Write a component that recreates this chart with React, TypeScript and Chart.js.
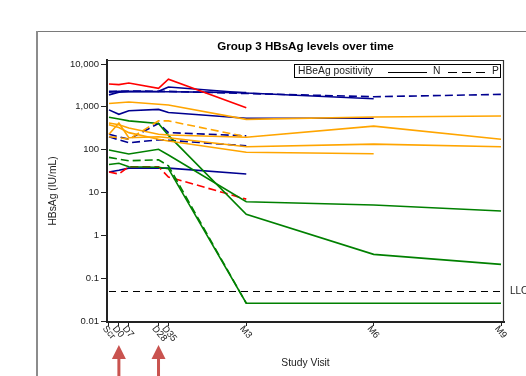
import { useEffect, useRef } from 'react';
import { Chart, registerables } from 'chart.js';

Chart.register(...registerables);

// ---------- data ----------
const visitLabels = ['Scr', 'D0', 'D7', 'D28', 'D35', 'M3', 'M6', 'M9'];
const visitDays = [-7, 0, 7, 28, 35, 90, 180, 270];
const yTickValues = [0.01, 0.1, 1, 10, 100, 1000, 10000];
const yTickLabels = ['0.01', '0.1', '1', '10', '100', '1,000', '10,000'];
const lloqValue = 0.05;
const arrowVisits = ['D0', 'D28'];

const redN1 = [3400, 3300, 3600, 2700, 4400, 950, null, null];
const redP1 = [30, 27, 40, 40, 23, 7, null, null];
const navyN1 = [1900, 2200, 2250, 2300, 2900, 2100, 1550, null];
const navyN2 = [2200, 2300, 2300, 2250, 2250, 2150, null, null];
const navyP1 = [2300, 2300, 2350, 2300, 2300, 2050, 1720, 1950];
const navyN3 = [850, 670, 810, 870, 740, 540, 540, null];
const navyP2 = [230, 200, 175, 410, 250, 210, null, null];
const navyP3 = [200, 170, 145, 170, 165, 123, null, null];
const navyN4 = [30, 33, 37, 37, 37, 27, null, null];
const orangeN1 = [1200, 1250, 1300, 1150, 1100, 510, 580, 610];
const orangeN2 = [420, 380, 320, 230, 220, 195, 355, 175];
const orangeN3 = [230, 420, 190, 200, 190, 117, 135, 117];
const orangeN4 = [380, 330, 250, 175, 160, 87, 80, null];
const orangeP1 = [200, 190, 175, 470, 470, 200, null, null];
const greenN1 = [570, 520, 470, 410, 215, 3.1, 0.36, 0.21];
const greenN2 = [98, 88, 79, 102, 75, 6.1, 5.1, 3.7];
const greenN3 = [45, 48, 40, 39, 36, 0.026, 0.026, 0.026];
const greenP1 = [66, 60, 55, 58, 42, 0.026, null, null];

// ---------- styles ----------
const RED = '#ff0000';
const NAVY = '#000090';
const ORANGE = '#ffa500';
const GREEN = '#008000';
const FONT = '"Liberation Sans", Arial, sans-serif';
const DASH = [8, 4];

const seriesTable: { values: (number | null)[]; color: string; dashed: boolean }[] = [
  { values: orangeN1, color: ORANGE, dashed: false },
  { values: orangeN2, color: ORANGE, dashed: false },
  { values: orangeN3, color: ORANGE, dashed: false },
  { values: orangeN4, color: ORANGE, dashed: false },
  { values: orangeP1, color: ORANGE, dashed: true },
  { values: greenN1, color: GREEN, dashed: false },
  { values: greenN2, color: GREEN, dashed: false },
  { values: greenN3, color: GREEN, dashed: false },
  { values: greenP1, color: GREEN, dashed: true },
  { values: redN1, color: RED, dashed: false },
  { values: redP1, color: RED, dashed: true },
  { values: navyN1, color: NAVY, dashed: false },
  { values: navyN2, color: NAVY, dashed: false },
  { values: navyP1, color: NAVY, dashed: true },
  { values: navyN3, color: NAVY, dashed: false },
  { values: navyP2, color: NAVY, dashed: true },
  { values: navyP3, color: NAVY, dashed: true },
  { values: navyN4, color: NAVY, dashed: false },
];

const decorPlugin = {
  id: 'decor',
  beforeDraw(chart: any) {
    const ctx = chart.ctx as CanvasRenderingContext2D;
    ctx.save();
    ctx.fillStyle = '#ffffff';
    ctx.fillRect(0, 0, chart.width, chart.height);
    // outer frame
    ctx.strokeStyle = '#7a7a7a';
    ctx.lineWidth = 1.2;
    ctx.beginPath();
    ctx.moveTo(36.5, 31.5);
    ctx.lineTo(chart.width, 31.5);
    ctx.stroke();
    ctx.strokeStyle = '#8c8c8c';
    ctx.lineWidth = 2;
    ctx.beginPath();
    ctx.moveTo(37, 31);
    ctx.lineTo(37, chart.height);
    ctx.stroke();
    ctx.restore();
  },
  beforeDatasetsDraw(chart: any) {
    const ctx = chart.ctx as CanvasRenderingContext2D;
    const { left, right } = chart.chartArea;
    const y = chart.scales.y.getPixelForValue(lloqValue);
    ctx.save();
    ctx.strokeStyle = '#000';
    ctx.lineWidth = 1;
    ctx.setLineDash([7, 5]);
    ctx.beginPath();
    ctx.moveTo(left + 2, Math.round(y) + 0.5);
    ctx.lineTo(right, Math.round(y) + 0.5);
    ctx.stroke();
    ctx.setLineDash([]);
    ctx.fillStyle = '#222';
    ctx.font = `10px ${FONT}`;
    ctx.textAlign = 'left';
    ctx.textBaseline = 'middle';
    ctx.fillText('LLOQ', right + 6, y);
    ctx.restore();
  },
  afterDraw(chart: any) {
    const ctx = chart.ctx as CanvasRenderingContext2D;
    const { left, right, top, bottom } = chart.chartArea;
    const xs = chart.scales.x;
    ctx.save();
    // plot frame top/right
    ctx.strokeStyle = '#333';
    ctx.lineWidth = 1.2;
    ctx.beginPath();
    ctx.moveTo(left, top + 0.5);
    ctx.lineTo(right - 0.5, top + 0.5);
    ctx.lineTo(right - 0.5, bottom);
    ctx.stroke();

    // title
    ctx.fillStyle = '#000';
    ctx.font = `bold 11.6px ${FONT}`;
    ctx.textAlign = 'center';
    ctx.textBaseline = 'middle';
    ctx.fillText('Group 3 HBsAg levels over time', (left + right) / 2, 47);

    // legend box
    const lx = 294.5, ly = 64.5, lw = 206, lh = 13;
    ctx.strokeStyle = '#000';
    ctx.lineWidth = 1;
    ctx.fillStyle = '#fff';
    ctx.fillRect(lx, ly, lw, lh);
    ctx.strokeRect(lx, ly, lw, lh);
    ctx.fillStyle = '#222';
    ctx.font = `10.3px ${FONT}`;
    ctx.textAlign = 'left';
    ctx.textBaseline = 'middle';
    const cy = ly + lh / 2 + 0.5;
    ctx.fillText('HBeAg positivity', 298, cy);
    ctx.beginPath();
    ctx.moveTo(388, Math.round(cy) + 0.5);
    ctx.lineTo(427, Math.round(cy) + 0.5);
    ctx.stroke();
    ctx.fillText('N', 433, cy);
    ctx.setLineDash([9, 5]);
    ctx.beginPath();
    ctx.moveTo(448, Math.round(cy) + 0.5);
    ctx.lineTo(487, Math.round(cy) + 0.5);
    ctx.stroke();
    ctx.setLineDash([]);
    ctx.fillText('P', 492, cy);

    // x tick labels (rotated)
    ctx.fillStyle = '#222';
    ctx.font = `9.5px ${FONT}`;
    visitDays.forEach((d, i) => {
      const px = xs.getPixelForValue(d);
      ctx.save();
      ctx.translate(px - 1, 324);
      ctx.rotate((50 * Math.PI) / 180);
      ctx.textAlign = 'left';
      ctx.textBaseline = 'top';
      ctx.fillText(visitLabels[i], 0, 0);
      ctx.restore();
    });

    // axis titles
    ctx.font = `10.3px ${FONT}`;
    ctx.textAlign = 'center';
    ctx.textBaseline = 'middle';
    ctx.fillText('Study Visit', (left + right) / 2, 363);
    ctx.save();
    ctx.translate(53, (top + bottom) / 2);
    ctx.rotate(-Math.PI / 2);
    ctx.fillText('HBsAg (IU/mL)', 0, 0);
    ctx.restore();

    // red arrows
    ctx.fillStyle = '#c9534f';
    arrowVisits.forEach((v) => {
      const d = visitDays[visitLabels.indexOf(v)];
      const px = xs.getPixelForValue(d);
      ctx.beginPath();
      ctx.moveTo(px, 345);
      ctx.lineTo(px + 7, 359);
      ctx.lineTo(px + 1.5, 359);
      ctx.lineTo(px + 1.5, 376);
      ctx.lineTo(px - 1.5, 376);
      ctx.lineTo(px - 1.5, 359);
      ctx.lineTo(px - 7, 359);
      ctx.closePath();
      ctx.fill();
    });
    ctx.restore();
  },
};

export default function App() {
  const ref = useRef<HTMLCanvasElement | null>(null);
  useEffect(() => {
    if (!ref.current) return;
    const datasets = seriesTable.map((s) => ({
      data: s.values
        .map((v, i) => (v == null ? null : { x: visitDays[i], y: v }))
        .filter((p) => p !== null),
      borderColor: s.color,
      backgroundColor: s.color,
      borderWidth: 1.6,
      borderDash: s.dashed ? DASH : [],
      pointRadius: 0,
      tension: 0,
      fill: false,
    }));
    const chart = new Chart(ref.current, {
      type: 'line',
      data: { datasets: datasets as any },
      options: {
        animation: false,
        responsive: false,
        devicePixelRatio: 1,
        layout: { padding: { left: 0, top: 60, right: 22, bottom: 0 } },
        plugins: { legend: { display: false }, tooltip: { enabled: false }, title: { display: false } },
        scales: {
          x: {
            type: 'linear',
            min: -8.4,
            max: 272.1,
            afterBuildTicks: (s: any) => {
              s.ticks = visitDays.map((v) => ({ value: v }));
            },
            afterFit: (s: any) => {
              s.height = 54;
            },
            ticks: { display: false },
            grid: { display: true, drawOnChartArea: false, drawTicks: true, tickLength: 4, color: '#222', lineWidth: 1 },
            border: { display: true, color: '#222', width: 2 },
          },
          y: {
            type: 'logarithmic',
            min: 0.00948,
            max: 12400,
            afterBuildTicks: (s: any) => {
              s.ticks = yTickValues.map((v) => ({ value: v }));
            },
            afterFit: (s: any) => {
              s.width = 107;
            },
            ticks: {
              autoSkip: false,
              padding: 2,
              color: '#222',
              font: { family: FONT, size: 9.5 },
              callback: (v: any) => {
                const i = yTickValues.indexOf(Number(v));
                return i >= 0 ? yTickLabels[i] : '';
              },
            },
            grid: { display: true, drawOnChartArea: false, drawTicks: true, tickLength: 6, color: '#222', lineWidth: 1 },
            border: { display: true, color: '#222', width: 2 },
          },
        },
      },
      plugins: [decorPlugin],
    });
    return () => chart.destroy();
  }, []);
  return (
    <div style={{ position: 'absolute', left: 0, top: 0, width: 526, height: 376 }}>
      <canvas ref={ref} width={526} height={376} style={{ width: 526, height: 376, display: 'block' }} />
    </div>
  );
}
